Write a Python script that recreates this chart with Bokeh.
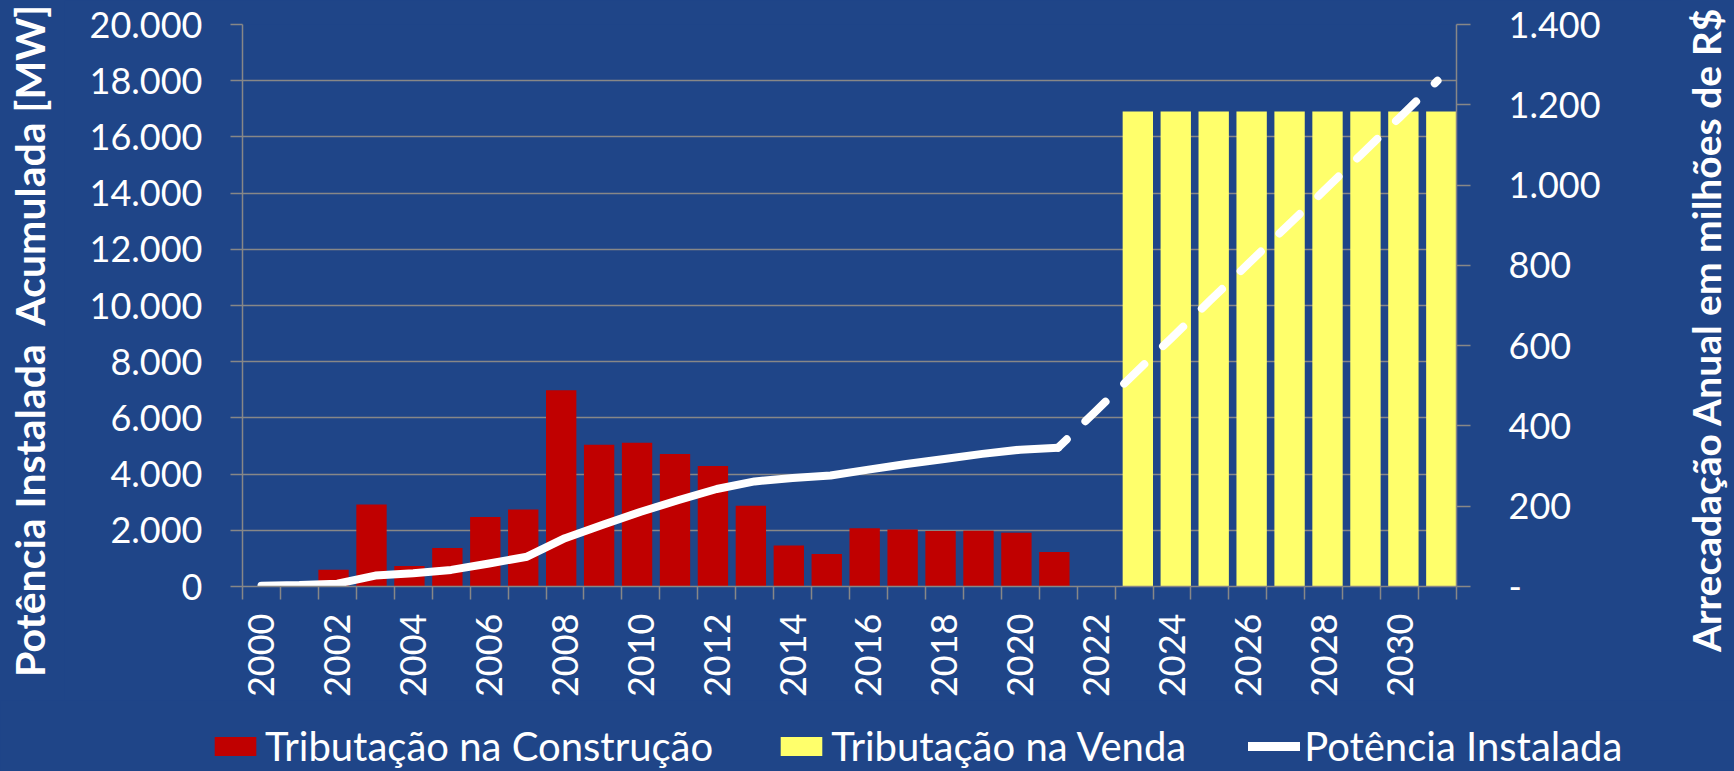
import math
from bokeh.plotting import figure
from bokeh.layouts import row, column
from bokeh.models import (Range1d, LinearAxis, FixedTicker, ColumnDataSource,
                          Legend, LegendItem, Div)
from bokeh.transform import dodge
from bokeh.embed import file_html
from bokeh.resources import INLINE

# ---------------- data ----------------
years = [2000, 2001, 2002, 2003, 2004, 2005, 2006, 2007, 2008, 2009, 2010,
         2011, 2012, 2013, 2014, 2015, 2016, 2017, 2018, 2019, 2020, 2021,
         2022, 2023, 2024, 2025, 2026, 2027, 2028, 2029, 2030, 2031]

# Tributação na Construção (milhões de R$, eixo direito)
construcao_anos = [2002, 2003, 2004, 2005, 2006, 2007, 2008, 2009, 2010, 2011,
                   2012, 2013, 2014, 2015, 2016, 2017, 2018, 2019, 2020, 2021]
construcao = [42, 204, 51, 96, 173, 192, 489, 353, 358, 330,
              300, 201, 102, 81, 145, 142, 138, 139, 134, 86]

# Tributação na Venda (milhões de R$, eixo direito)
venda_anos = [2023, 2024, 2025, 2026, 2027, 2028, 2029, 2030, 2031]
venda = [1183, 1183, 1183, 1183, 1183, 1183, 1183, 1183, 1183]

# Potência Instalada acumulada (MW, eixo esquerdo)
potencia_anos = [2000, 2001, 2002, 2003, 2004, 2005, 2006, 2007, 2008, 2009,
                 2010, 2011, 2012, 2013, 2014, 2015, 2016, 2017, 2018, 2019,
                 2020, 2021]
potencia = [30, 50, 100, 390, 470, 590, 820, 1060, 1720, 2200,
            2660, 3080, 3470, 3740, 3860, 3950, 4160, 4360, 4540, 4720,
            4870, 4940]
projecao_anos = [2021, 2022, 2023, 2024, 2025, 2026, 2027, 2028, 2029, 2030, 2031]
projecao = [4940, 6250, 7560, 8860, 10170, 11470, 12780, 14080, 15390, 16690, 18000]

left_ticks = [0, 2000, 4000, 6000, 8000, 10000, 12000, 14000, 16000, 18000, 20000]
left_labels = ["0", "2.000", "4.000", "6.000", "8.000", "10.000", "12.000",
               "14.000", "16.000", "18.000", "20.000"]
right_ticks = [0, 200, 400, 600, 800, 1000, 1200, 1400]
right_labels = ["-", "200", "400", "600", "800", "1.000", "1.200", "1.400"]
x_label_years = [2000, 2002, 2004, 2006, 2008, 2010, 2012, 2014, 2016, 2018,
                 2020, 2022, 2024, 2026, 2028, 2030]

titulo_esq = "Potência Instalada  Acumulada [MW]"
titulo_dir = "Arrecadação Anual em milhões de R$"
legenda = ["Tributação na Construção", "Tributação na Venda", "Potência Instalada"]

# ---------------- style ----------------
BG = "#1F4588"
GRAY = "#878787"
RED = "#C00000"
YELLOW = "#FFFF6B"
FONT = "Lato"

TOTAL_W, TOTAL_H = 1734, 771
LEG_H = 71                    # legend strip at the bottom
H = TOTAL_H - LEG_H           # height of the chart row
W_LEFT = 64
W_RIGHT = 53
W_MAIN = TOTAL_W - W_LEFT - W_RIGHT
FRAME_L, FRAME_R, FRAME_T, FRAME_B = 242, 1456, 24, 587
NAN = float("nan")


def title_div(width, text, font_size, cx, start_y):
    """Vertical axis title reading bottom-to-top, starting at start_y, centred on cx."""
    html = (
        f'<div style="position:relative;width:{width}px;height:{H}px;">'
        f'<span style="position:absolute;left:{cx}px;top:{start_y}px;'
        f'transform-origin:0 50%;transform:translateY(-50%) rotate(-90deg);'
        f'white-space:pre;font-family:{FONT};font-weight:bold;'
        f'font-size:{font_size};line-height:1.2;color:white;">{text}</span></div>'
    )
    return Div(text=html, width=width, height=H,
               styles={"background-color": BG, "margin": "0", "padding": "0"})


# ---------------- main chart ----------------
p = figure(width=W_MAIN, height=H, output_backend="svg", toolbar_location=None,
           x_range=Range1d(years[0] - 0.5, years[-1] + 0.5),
           y_range=Range1d(0, 20000),
           min_border_left=FRAME_L - W_LEFT,
           min_border_right=W_MAIN - (FRAME_R - W_LEFT),
           min_border_top=FRAME_T, min_border_bottom=H - FRAME_B,
           background_fill_color=BG, border_fill_color=BG,
           outline_line_color=None)
p.extra_y_ranges = {"rs": Range1d(0, 1400)}

src_c = ColumnDataSource(dict(x=construcao_anos, y=construcao))
src_v = ColumnDataSource(dict(x=venda_anos, y=venda))
p.vbar(x=dodge("x", -0.1, range=p.x_range), top="y", width=0.8, source=src_c,
       y_range_name="rs", fill_color=RED, line_color=None)
p.vbar(x=dodge("x", 0.1, range=p.x_range), top="y", width=0.8, source=src_v,
       y_range_name="rs", fill_color=YELLOW, line_color=None)

p.line(potencia_anos, potencia, line_color="white", line_width=8,
       line_cap="round", line_join="round")
p.line(projecao_anos, projecao, line_color="white", line_width=8,
       line_cap="round", line_join="round", line_dash="28 26", line_dash_offset=16)

# grid
p.xgrid.visible = False
p.ygrid.ticker = FixedTicker(ticks=left_ticks)
p.ygrid.grid_line_color = GRAY
p.ygrid.grid_line_width = 1.5

# left axis
ya = p.yaxis[0]
ya.ticker = FixedTicker(ticks=left_ticks)
ya.major_label_overrides = dict(zip(left_ticks, left_labels))
ya.major_tick_out = 12
ya.major_tick_in = 0
ya.minor_tick_out = 0
ya.minor_tick_in = 0
ya.axis_line_color = GRAY
ya.axis_line_width = 1.5
ya.major_tick_line_color = GRAY
ya.major_tick_line_width = 1.5
ya.major_label_text_font = FONT
ya.major_label_text_font_size = "36px"
ya.major_label_text_color = "white"
ya.major_label_standoff = 28

# right axis
yr = LinearAxis(y_range_name="rs")
yr.ticker = FixedTicker(ticks=right_ticks)
yr.major_label_overrides = dict(zip(right_ticks, right_labels))
yr.major_tick_out = 14
yr.major_tick_in = 0
yr.minor_tick_out = 0
yr.minor_tick_in = 0
yr.axis_line_color = GRAY
yr.axis_line_width = 1.5
yr.major_tick_line_color = GRAY
yr.major_tick_line_width = 1.5
yr.major_label_text_font = FONT
yr.major_label_text_font_size = "36px"
yr.major_label_text_color = "white"
yr.major_label_standoff = 38
p.add_layout(yr, "right")

# bottom axis
xa = p.xaxis[0]
boundaries = [y - 0.5 for y in years] + [years[-1] + 0.5]
xa.ticker = FixedTicker(ticks=x_label_years, minor_ticks=boundaries)
xa.major_label_overrides = {y: str(y) for y in x_label_years}
xa.major_tick_out = 13
xa.major_tick_in = 0
xa.major_tick_line_color = None
xa.minor_tick_out = 13
xa.minor_tick_in = 0
xa.minor_tick_line_color = GRAY
xa.minor_tick_line_width = 1.5
xa.axis_line_color = GRAY
xa.axis_line_width = 1.5
xa.major_label_orientation = math.pi / 2
xa.major_label_standoff = 14
xa.major_label_text_font = FONT
xa.major_label_text_font_size = "36px"
xa.major_label_text_color = "white"

# ---------------- axis titles (side strips) ----------------
left_div = title_div(W_LEFT, titulo_esq, "41px", 30, 677)
right_div = title_div(W_RIGHT, titulo_dir, "39px", 1706 - (TOTAL_W - W_RIGHT), 652)

# ---------------- legend strip ----------------
leg_fig = figure(width=TOTAL_W, height=LEG_H, output_backend="svg", toolbar_location=None,
                 x_range=Range1d(0, 1), y_range=Range1d(0, 1),
                 x_axis_location=None, y_axis_location=None,
                 min_border=0, background_fill_color=BG, border_fill_color=BG,
                 outline_line_color=None)
leg_fig.grid.visible = False
g_c = leg_fig.vbar(x=[NAN], top=[NAN], width=1, fill_color=RED, line_color=None)
g_v = leg_fig.vbar(x=[NAN], top=[NAN], width=1, fill_color=YELLOW, line_color=None)
g_l = leg_fig.line(x=[NAN, NAN], y=[NAN, NAN], line_color="white", line_width=9,
                   line_cap="round")
legend = Legend(items=[LegendItem(label=legenda[0], renderers=[g_c]),
                       LegendItem(label=legenda[1], renderers=[g_v]),
                       LegendItem(label=legenda[2], renderers=[g_l])],
                orientation="horizontal", location=(209, 1),
                glyph_width=52, glyph_height=24, label_standoff=4, spacing=62,
                padding=0, margin=0, border_line_color=None,
                background_fill_alpha=0,
                label_text_color="white", label_text_font=FONT,
                label_text_font_size="40px")
leg_fig.add_layout(legend)

layout = column(row(left_div, p, right_div, spacing=0,
                    styles={"background-color": BG}),
                leg_fig, spacing=0, styles={"background-color": BG})

open("out.html", "w").write(file_html(layout, INLINE))
